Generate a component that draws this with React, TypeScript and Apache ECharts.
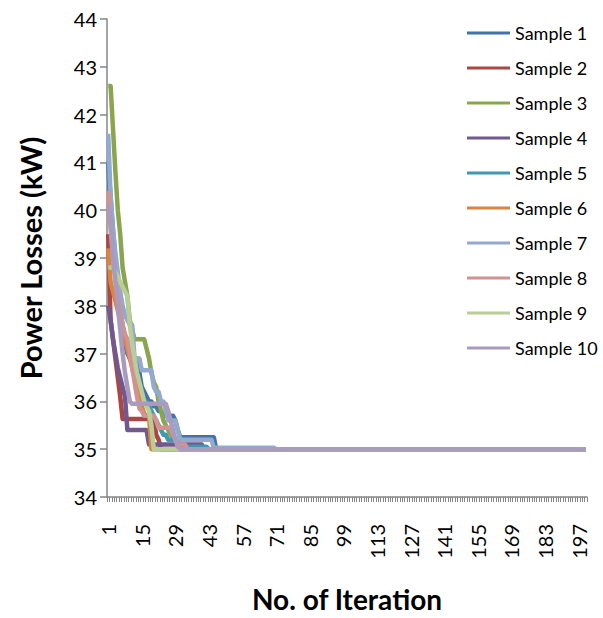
import React, { useEffect, useRef } from "react";
import * as echarts from "echarts";

const ITERATION_COUNT = 200;
const iterations: string[] = Array.from({ length: ITERATION_COUNT }, (_, i) => String(i + 1));
const FINAL_LOSS = 35;

const seriesNames = [
  "Sample 1", "Sample 2", "Sample 3", "Sample 4", "Sample 5",
  "Sample 6", "Sample 7", "Sample 8", "Sample 9", "Sample 10",
];
const seriesColors = [
  "#4572A7", "#AA4643", "#89A54E", "#71588F", "#4198AF",
  "#DB843D", "#93A9CF", "#D19392", "#B9CD96", "#A99BBD",
];

// Losses for the first iterations; afterwards every sample stays at FINAL_LOSS
const sample1 = [41.0, 40.0, 39.2, 38.6, 38.2, 37.8, 37.5, 37.2, 37.0, 36.9, 36.9, 36.9, 36.9, 36.6, 36.3, 36.2, 36.1, 36.0, 36.0, 35.9, 35.9, 35.8, 35.8, 35.7, 35.7, 35.7, 35.7, 35.7, 35.6, 35.4, 35.25, 35.25, 35.25, 35.25, 35.25, 35.25, 35.25, 35.25, 35.25, 35.25, 35.25, 35.25, 35.25, 35.25, 35.25];
const sample2 = [39.5, 37.7, 37.3, 36.9, 36.5, 36.1, 35.63, 35.63, 35.63, 35.63, 35.63, 35.63, 35.63, 35.63, 35.63, 35.63, 35.63, 35.63, 35.63, 35.63, 35.3, 35.2];
const sample3 = [42.6, 42.6, 41.7, 40.8, 40.0, 39.5, 38.8, 38.5, 38.2, 37.7, 37.5, 37.3, 37.3, 37.3, 37.3, 37.3, 37.1, 36.9, 36.6, 36.4, 36.3, 36.0, 35.8, 35.6, 35.5, 35.4, 35.3, 35.25, 35.2, 35.15, 35.1];
const sample4 = [38.0, 37.7, 37.3, 37.0, 36.7, 36.5, 36.3, 36.1, 35.4, 35.4, 35.4, 35.4, 35.4, 35.4, 35.4, 35.4, 35.4, 35.1, 35.1, 35.1, 35.1, 35.1, 35.1, 35.1, 35.1, 35.1, 35.1, 35.1, 35.1, 35.1, 35.1, 35.1, 35.1, 35.1, 35.1, 35.1, 35.1, 35.1, 35.1, 35.1];
const sample5 = [41.0, 40.3, 39.6, 39.0, 38.2, 37.9, 37.6, 37.3, 37.1, 36.95, 36.9, 36.7, 36.5, 36.3, 36.1, 36.0, 36.0, 35.9, 35.8, 35.7, 35.6, 35.5, 35.4, 35.3, 35.3, 35.2, 35.2, 35.2, 35.2, 35.2, 35.05, 35.05, 35.05, 35.05, 35.05, 35.05, 35.05, 35.05, 35.05, 35.05, 35.05, 35.05];
const sample6 = [39.2, 38.5, 38.3, 38.1, 37.9, 37.7, 37.5, 37.3, 37.1, 36.9, 36.7, 36.5, 36.3, 36.1, 35.9, 35.75, 35.7, 35.7];
const sample7 = [41.6, 40.3, 39.6, 39.1, 38.7, 38.3, 38.0, 37.8, 37.7, 37.6, 37.6, 36.9, 36.9, 36.9, 36.65, 36.65, 36.65, 36.65, 36.65, 36.3, 36.2, 36.2, 36.0, 36.0, 35.8, 35.6, 35.6, 35.6, 35.6, 35.4, 35.2, 35.2, 35.2, 35.2, 35.2, 35.2, 35.2, 35.2, 35.2, 35.2, 35.2, 35.2, 35.2, 35.2, 35.03, 35.03, 35.03, 35.03, 35.03, 35.03, 35.03, 35.03, 35.03, 35.03, 35.03, 35.03, 35.03, 35.03, 35.03, 35.03, 35.03, 35.03, 35.03, 35.03, 35.03, 35.03, 35.03, 35.03, 35.03, 35.03];
const sample8 = [40.4, 39.6, 39.0, 38.6, 38.2, 37.9, 37.6, 37.4, 37.3, 37.0, 36.7, 36.4, 36.1, 35.85, 35.8, 35.7, 35.7, 35.7, 35.7, 35.7, 35.6, 35.45, 35.45, 35.45, 35.45, 35.45, 35.45, 35.3, 35.2, 35.1, 35.1, 35.1, 35.1];
const sample9 = [38.8, 38.8, 38.8, 38.7, 38.6, 38.5, 38.4, 38.3, 38.2, 37.6, 37.2, 36.9, 36.6, 36.4, 36.2, 36.0, 35.9, 35.8, 35.5];
const sample10 = [40.1, 39.8, 39.0, 38.5, 38.0, 37.5, 37.0, 36.6, 36.3, 36.0, 35.95, 35.95, 35.95, 35.95, 35.95, 35.95, 35.95, 35.95, 35.95, 35.95, 35.95, 35.95, 35.95, 35.95, 35.95, 35.8, 35.6, 35.4, 35.2, 35.05];

const sampleHeads = [sample1, sample2, sample3, sample4, sample5, sample6, sample7, sample8, sample9, sample10];

function fullSeries(head: number[]): number[] {
  const out = head.slice();
  while (out.length < ITERATION_COUNT) out.push(FINAL_LOSS);
  return out;
}

const FONT = "Lato, 'Open Sans', sans-serif";

export default function App() {
  const ref = useRef<HTMLDivElement>(null);
  useEffect(() => {
    if (!ref.current) return;
    const chart = echarts.init(ref.current, undefined, { renderer: "svg" });
    chart.setOption({
      animation: false,
      backgroundColor: "#ffffff",
      textStyle: { fontFamily: FONT },
      grid: { left: 107, top: 19, right: 16, bottom: 114, containLabel: false },
      legend: {
        orient: "vertical",
        left: 467,
        top: 23,
        padding: 0,
        itemWidth: 43,
        itemHeight: 3,
        itemGap: 15,
        icon: "rect",
        data: seriesNames,
        textStyle: { fontFamily: FONT, fontSize: 18, color: "#000", lineHeight: 20, padding: [0, 0, 0, 0] },
      },
      xAxis: {
        type: "category",
        data: iterations,
        boundaryGap: true,
        name: "No. of Iteration",
        nameLocation: "middle",
        nameGap: 88,
        nameTextStyle: { fontFamily: FONT, fontSize: 28, fontWeight: "bold", color: "#000", verticalAlign: "top" },
        axisLine: { lineStyle: { color: "#868686", width: 1.5 } },
        axisTick: { show: true, interval: 0, length: 5, lineStyle: { color: "#868686" } },
        axisLabel: { interval: 13, rotate: 90, margin: 27, fontFamily: FONT, fontSize: 20, color: "#000" },
        splitLine: { show: false },
      },
      yAxis: {
        type: "value",
        min: 34,
        max: 44,
        interval: 1,
        name: "Power Losses (kW)",
        nameLocation: "middle",
        nameGap: 62,
        nameRotate: 90,
        nameTextStyle: { fontFamily: FONT, fontSize: 29, fontWeight: "bold", color: "#000" },
        axisLine: { show: true, lineStyle: { color: "#868686", width: 1.5 } },
        axisTick: { show: true, length: 7, lineStyle: { color: "#868686", width: 1.5 } },
        axisLabel: { margin: 10, fontFamily: FONT, fontSize: 20, color: "#000" },
        splitLine: { show: false },
      },
      series: seriesNames.map((name, i) => ({
        name,
        type: "line",
        data: fullSeries(sampleHeads[i]),
        symbol: "none",
        color: seriesColors[i],
        lineStyle: { width: 4.5, color: seriesColors[i], join: "round" },
      })),
    });
    return () => chart.dispose();
  }, []);
  return <div ref={ref} style={{ position: "absolute", left: 0, top: 0, width: 603, height: 618 }} />;
}
